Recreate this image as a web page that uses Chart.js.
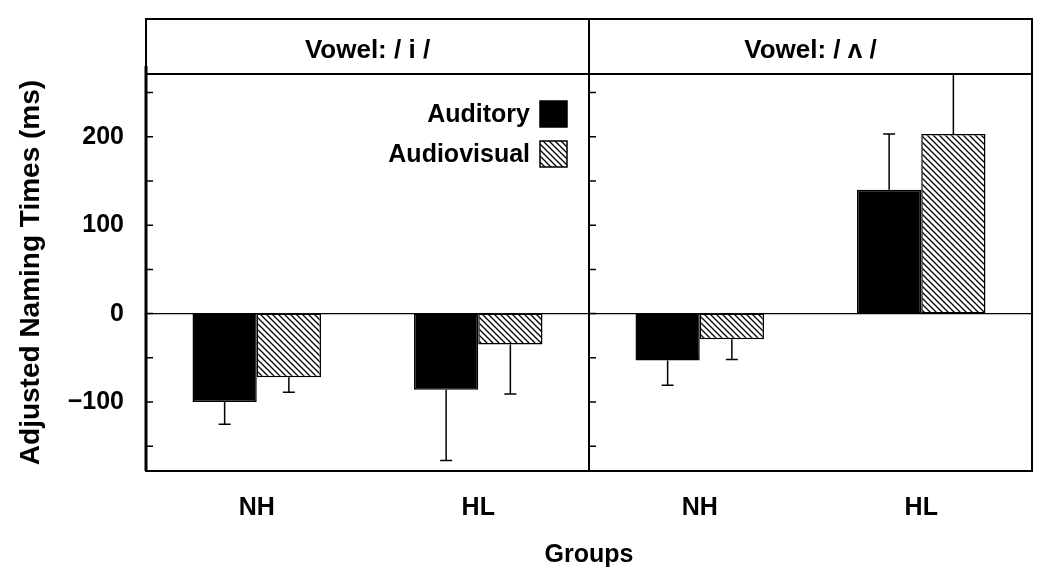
<!DOCTYPE html>
<html>
<head>
<meta charset="utf-8">
<script src="https://cdn.jsdelivr.net/npm/chart.js@4.4.1/dist/chart.umd.min.js"></script>
<style>
  html, body { margin: 0; padding: 0; background: #fff; }
  #wrap { width: 1050px; height: 586px; position: relative; }
</style>
</head>
<body>
<div id="wrap"><canvas id="chart"></canvas></div>
<script>
const groups = ['NH', 'HL', 'NH', 'HL'];
const panels = ['Vowel: / i /', 'Vowel: / \u028C /'];
const seriesNames = ['Auditory', 'Audiovisual'];
const auditory = [-100, -86, -53, 140];
const audiovisual = [-72, -35, -29, 203];
// error bar lengths (drawn away from zero)
const auditoryErr = [25, 80, 28, 63];
const audiovisualErr = [17, 56, 23, 100];
const yTicks = [-150, -100, -50, 0, 50, 100, 150, 200, 250];

const FONT = "'Liberation Sans', Arial, Helvetica, sans-serif";

function makeHatch(ctx) {
  const c = document.createElement('canvas');
  c.width = 6;
  c.height = 6;
  const g = c.getContext('2d');
  g.fillStyle = '#fff';
  g.fillRect(0, 0, 6, 6);
  g.strokeStyle = '#000';
  g.lineWidth = 1.3;
  g.beginPath();
  g.moveTo(-1, -1); g.lineTo(7, 7);
  g.moveTo(-1, 5); g.lineTo(1, 7);
  g.moveTo(5, -1); g.lineTo(7, 1);
  g.stroke();
  return ctx.createPattern(c, 'repeat');
}

const panelPlugin = {
  id: 'panels',
  beforeDatasetsDraw(chart) {
    const { ctx, chartArea: a, scales: { y } } = chart;
    ctx.save();
    // zero line
    ctx.strokeStyle = '#000';
    ctx.lineWidth = 1.2;
    const y0 = y.getPixelForValue(0);
    ctx.beginPath();
    ctx.moveTo(a.left, y0);
    ctx.lineTo(a.right, y0);
    ctx.stroke();
    ctx.restore();
  },
  afterDraw(chart) {
    const { ctx, chartArea: a, scales: { y } } = chart;
    const mid = (a.left + a.right) / 2;
    ctx.save();
    ctx.strokeStyle = '#000';
    ctx.lineWidth = 2;
    // frame and divider
    ctx.strokeRect(a.left, a.top, a.right - a.left, a.bottom - a.top);
    ctx.beginPath();
    ctx.moveTo(mid, a.top);
    ctx.lineTo(mid, a.bottom);
    ctx.stroke();
    ctx.lineWidth = 3;
    ctx.beginPath();
    ctx.moveTo(a.left, a.top - 8);
    ctx.lineTo(a.left, a.bottom);
    ctx.stroke();

    // inner ticks
    ctx.lineWidth = 1.5;
    yTicks.forEach((v) => {
      const py = y.getPixelForValue(v);
      ctx.beginPath();
      ctx.moveTo(a.left, py); ctx.lineTo(a.left + 7, py);
      ctx.moveTo(mid, py); ctx.lineTo(mid + 7, py);
      ctx.stroke();
    });

    // header strip
    const top = 19;
    ctx.lineWidth = 2;
    ctx.strokeRect(a.left, top, a.right - a.left, a.top - top);
    ctx.beginPath();
    ctx.moveTo(mid, top);
    ctx.lineTo(mid, a.top);
    ctx.stroke();
    ctx.fillStyle = '#000';
    ctx.font = 'bold 26px ' + FONT;
    ctx.textAlign = 'center';
    ctx.textBaseline = 'middle';
    ctx.fillText(panels[0], (a.left + mid) / 2, (top + a.top) / 2 + 4);
    ctx.fillText(panels[1], (mid + a.right) / 2, (top + a.top) / 2 + 4);

    // legend
    ctx.font = 'bold 25px ' + FONT;
    const boxX = 540, boxW = 27, boxH = 26;
    const rows = [114, 154];
    chart.data.datasets.forEach((ds, i) => {
      const cy = rows[i];
      ctx.fillStyle = ds.backgroundColor;
      ctx.fillRect(boxX, cy - boxH / 2, boxW, boxH);
      ctx.lineWidth = 1.5;
      ctx.strokeRect(boxX, cy - boxH / 2, boxW, boxH);
      ctx.fillStyle = '#000';
      ctx.textAlign = 'right';
      ctx.fillText(ds.label, boxX - 10, cy + 1);
    });
    ctx.restore();
  }
};

const errorBarPlugin = {
  id: 'errorBars',
  afterDatasetsDraw(chart) {
    const { ctx, chartArea: a, scales: { y } } = chart;
    const errs = [auditoryErr, audiovisualErr];
    ctx.save();
    ctx.beginPath();
    ctx.rect(a.left, a.top, a.right - a.left, a.bottom - a.top);
    ctx.clip();
    ctx.strokeStyle = '#000';
    ctx.lineWidth = 1.5;
    chart.data.datasets.forEach((ds, i) => {
      const meta = chart.getDatasetMeta(i);
      meta.data.forEach((bar, j) => {
        const v = ds.data[j];
        const end = v + Math.sign(v) * errs[i][j];
        const y0 = y.getPixelForValue(v);
        const y1 = y.getPixelForValue(end);
        ctx.beginPath();
        ctx.moveTo(bar.x, y0);
        ctx.lineTo(bar.x, y1);
        ctx.moveTo(bar.x - 6, y1);
        ctx.lineTo(bar.x + 6, y1);
        ctx.stroke();
      });
    });
    ctx.restore();
  }
};

const canvas = document.getElementById('chart');
const hatch = makeHatch(canvas.getContext('2d'));

new Chart(canvas, {
  type: 'bar',
  data: {
    labels: groups,
    datasets: [
      {
        label: seriesNames[0],
        data: auditory,
        backgroundColor: '#000',
        borderColor: '#000',
        borderWidth: 1.5,
        borderSkipped: false
      },
      {
        label: seriesNames[1],
        data: audiovisual,
        backgroundColor: hatch,
        borderColor: '#000',
        borderWidth: 1.5,
        borderSkipped: false
      }
    ]
  },
  options: {
    responsive: true,
    maintainAspectRatio: false,
    animation: false,
    layout: { padding: { top: 74, right: 18, left: 0, bottom: 0 } },
    datasets: { bar: { barPercentage: 1, categoryPercentage: 0.58 } },
    plugins: {
      legend: { display: false },
      tooltip: { enabled: false }
    },
    scales: {
      x: {
        grid: { display: false, drawTicks: false },
        border: { display: false },
        ticks: {
          color: '#000',
          padding: 22,
          font: { family: FONT, size: 25, weight: 'bold' }
        },
        title: {
          display: true,
          text: 'Groups',
          color: '#000',
          padding: { top: 0, bottom: 16 },
          font: { family: FONT, size: 25, weight: 'bold' }
        },
        afterFit(scale) { scale.height = 115; }
      },
      y: {
        min: -178,
        max: 271,
        grid: { display: false, drawTicks: false },
        border: { display: false },
        afterBuildTicks(scale) {
          scale.ticks = yTicks.map((v) => ({ value: v }));
        },
        ticks: {
          color: '#000',
          padding: 22,
          font: { family: FONT, size: 25, weight: 'bold' },
          callback(v) {
            if (v % 100 !== 0) return '';
            return v < 0 ? '\u2212' + Math.abs(v) : String(v);
          }
        },
        title: {
          display: true,
          text: 'Adjusted Naming Times (ms)',
          color: '#000',
          padding: { top: 14, bottom: 0 },
          font: { family: FONT, size: 28, weight: 'bold' }
        },
        afterFit(scale) { scale.width = 146; }
      }
    }
  },
  plugins: [panelPlugin, errorBarPlugin]
});
</script>
</body>
</html>
